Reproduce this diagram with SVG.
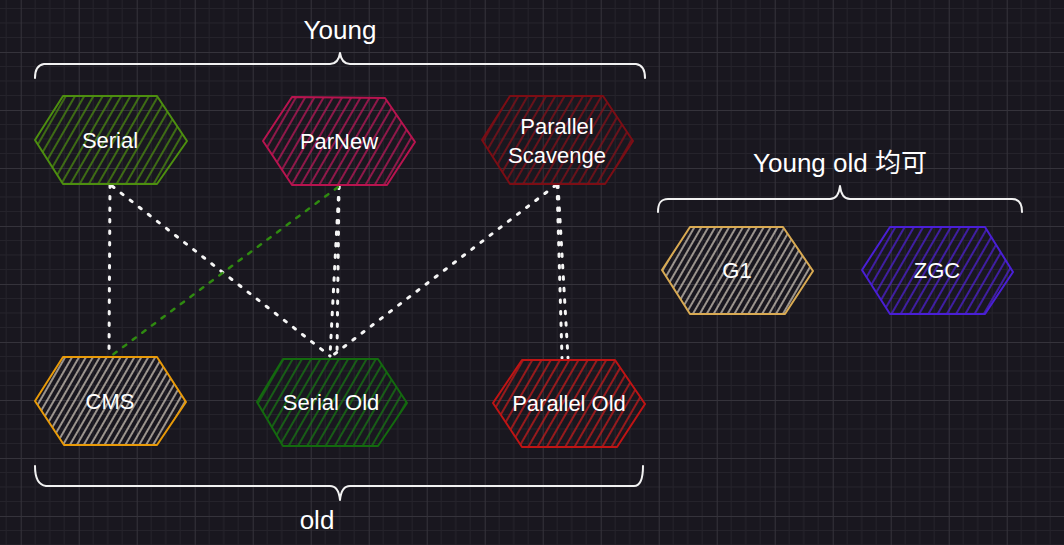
<svg xmlns="http://www.w3.org/2000/svg" width="1064" height="545" viewBox="0 0 1064 545">
<defs>
<pattern id="grid" patternUnits="userSpaceOnUse" x="20.7" y="52" width="58" height="58">
<path d="M14.5,0V58M29,0V58M43.5,0V58M0,14.5H58M0,29H58M0,43.5H58" stroke="#25232b" stroke-width="1" fill="none"/>
<path d="M0.5,0V58M0,0.5H58" stroke="#35333b" stroke-width="1" fill="none"/>
</pattern>
<pattern id="hGreen" patternUnits="userSpaceOnUse" width="8" height="20" patternTransform="rotate(30)"><path d="M1,0V20" stroke="#4d8f0f" stroke-width="1.4"/></pattern>
<pattern id="hPink" patternUnits="userSpaceOnUse" width="8" height="20" patternTransform="rotate(30)"><path d="M1,0V20" stroke="#c2185b" stroke-width="1.4"/></pattern>
<pattern id="hDarkRed" patternUnits="userSpaceOnUse" width="8" height="20" patternTransform="rotate(30)"><path d="M1,0V20" stroke="#8a0f18" stroke-width="1.4"/></pattern>
<pattern id="hBeige" patternUnits="userSpaceOnUse" width="6" height="20" patternTransform="rotate(30)"><path d="M1,0V20" stroke="#d2c9bc" stroke-width="1.4"/></pattern>
<pattern id="hDkGreen" patternUnits="userSpaceOnUse" width="8" height="20" patternTransform="rotate(30)"><path d="M1,0V20" stroke="#167a12" stroke-width="1.4"/></pattern>
<pattern id="hRed" patternUnits="userSpaceOnUse" width="8" height="20" patternTransform="rotate(30)"><path d="M1,0V20" stroke="#cc1a1a" stroke-width="1.4"/></pattern>
<pattern id="hPurple" patternUnits="userSpaceOnUse" width="8" height="20" patternTransform="rotate(30)"><path d="M1,0V20" stroke="#4f20d8" stroke-width="1.4"/></pattern>
</defs>
<style>
.hex{stroke-width:2;stroke-linejoin:round}
.lbl{font-family:"Liberation Sans",Arial,sans-serif;font-size:22px;fill:#ffffff;text-anchor:middle;dominant-baseline:central}
.title{font-family:"Liberation Sans","Noto Sans CJK SC",sans-serif;font-size:26px;fill:#ffffff;text-anchor:middle;dominant-baseline:central}
.brace{fill:none;stroke:#f2f2f2;stroke-width:2;stroke-linecap:round;stroke-linejoin:round}
.dot{fill:none;stroke:#f5f5f5;stroke-width:3;stroke-linecap:round;stroke-dasharray:2.5 9}
.gdash{fill:none;stroke:#2f8a10;stroke-width:2.5;stroke-linecap:round;stroke-dasharray:4 8}
</style>
<rect width="1064" height="545" fill="#19171f"/>
<rect width="1064" height="545" fill="url(#grid)"/>

<g id="braces">
<path class="brace" d="M35,78 C35,70 37,65 44,64 L330,64 C336,64 339,60 340,53 C341,60 344,64 350,64 L636,64 C643,65 645,70 645,78"/>
<path class="brace" d="M35,466 C35,476 38,485 46,486 L330,486 C336,486 339,490 340,500 C341,490 344,486 350,486 L634,486 C641,486 643,478 643,466"/>
<path class="brace" d="M658,212 C658,204 660,199 668,199 L830,199 C836,199 839,195 840,186 C841,195 844,199 850,199 L1012,199 C1019,199 1022,204 1022,212"/>
</g>
<g id="titles">
<text class="title" x="340" y="30">Young</text>
<text class="title" x="317" y="520">old</text>
<text class="title" x="840" y="163">Young old 均可</text>
</g>

<g id="connectors">
<path class="dot" d="M110,185 L109,356"/>
<path class="dot" d="M112,186 L330,356"/>
<path class="dot" d="M339,186 L330,356"/>
<path class="dot" d="M339,186 L337,355"/>
<path class="dot" d="M556,185 L332,356"/>
<path class="dot" d="M557,185 L562,358"/>
<path class="dot" d="M558,185 L568,358"/>
<path class="gdash" d="M338,187 L111,356"/>
</g>

<g id="serial">
<polygon class="hex" points="35,140 63,96 157,96 187,141 157,184 63,184" fill="url(#hGreen)" stroke="#4d8f0f"/>
<text class="lbl" x="110" y="140">Serial</text>
</g>
<g id="parnew">
<polygon class="hex" points="263,141 292,97 385,98 415,142 387,185 292,185" fill="url(#hPink)" stroke="#b8144f"/>
<text class="lbl" x="339" y="141">ParNew</text>
</g>
<g id="parallel-scavenge">
<polygon class="hex" points="482,140 510,96 603,96 633,141 605,184 510,184" fill="url(#hDarkRed)" stroke="#7c0d14"/>
<text class="lbl" x="557" y="126">Parallel</text>
<text class="lbl" x="557" y="155">Scavenge</text>
</g>
<g id="cms">
<polygon class="hex" points="35,401 63,357 157,357 186,402 157,445 64,445" fill="url(#hBeige)" stroke="#e89a08"/>
<text class="lbl" x="110" y="401">CMS</text>
</g>
<g id="serial-old">
<polygon class="hex" points="257,402 283,359 378,359 407,403 378,446 283,446" fill="url(#hDkGreen)" stroke="#136a0e"/>
<text class="lbl" x="331" y="402">Serial Old</text>
</g>
<g id="parallel-old">
<polygon class="hex" points="493,403 522,360 615,360 645,404 617,447 522,447" fill="url(#hRed)" stroke="#c01414"/>
<text class="lbl" x="569" y="403">Parallel Old</text>
</g>
<g id="g1">
<polygon class="hex" points="662,270 690,227 783,227 813,271 785,314 690,314" fill="url(#hBeige)" stroke="#d9aa52"/>
<text class="lbl" x="737" y="270">G1</text>
</g>
<g id="zgc">
<polygon class="hex" points="862,270 890,227 985,227 1013,272 985,314 890,314" fill="url(#hPurple)" stroke="#4a1fd6"/>
<text class="lbl" x="937" y="270">ZGC</text>
</g>
</svg>
